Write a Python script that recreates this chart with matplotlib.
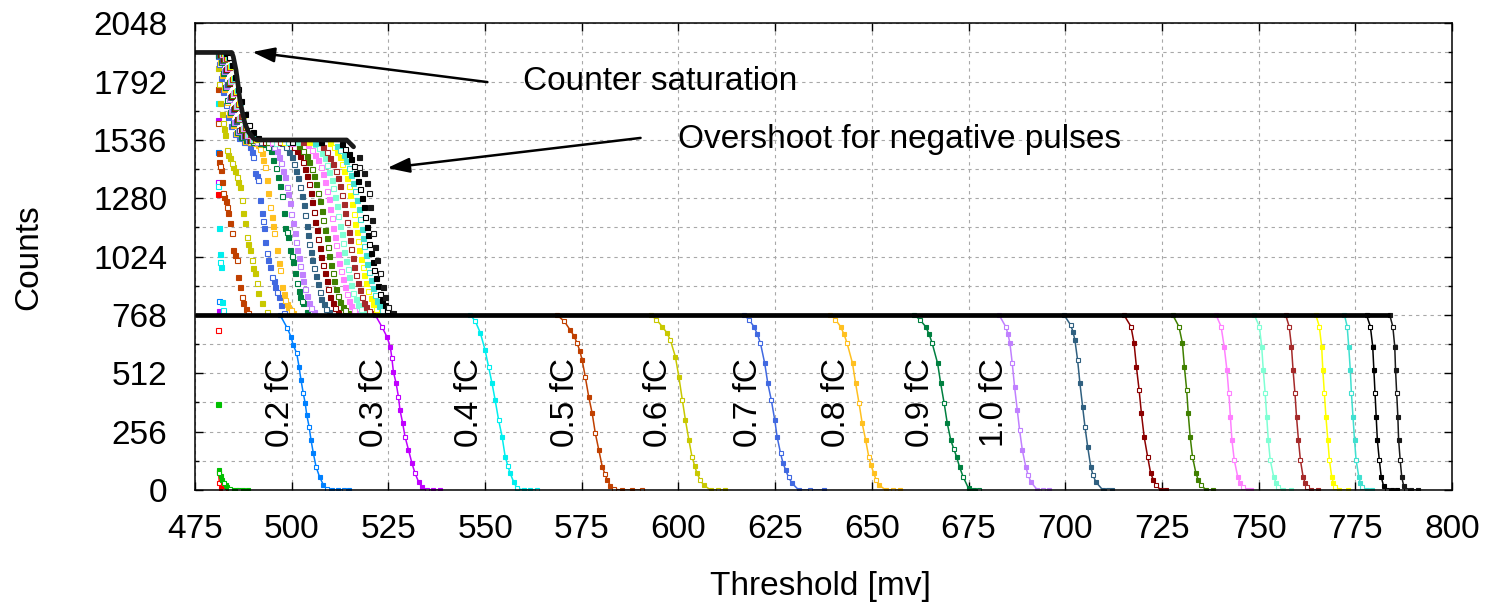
import numpy as np
import matplotlib
matplotlib.use("Agg")
import matplotlib.pyplot as plt
from matplotlib.ticker import MultipleLocator

plt.rcParams["font.family"] = ["Liberation Sans", "DejaVu Sans"]

# ---------------------------------------------------------------- data
charges = [0.0, 0.1, 0.2, 0.3, 0.4, 0.5, 0.6, 0.7, 0.8, 0.9, 1.0,
           1.1, 1.2, 1.3, 1.4, 1.5, 1.6, 1.7, 1.8, 1.9, 2.0]

colors = ["#ff0000", "#00c000", "#0080ff", "#c000ff", "#00eeee", "#c04000",
          "#c8c800", "#4169e1", "#ffc020", "#008040", "#c080ff", "#306080",
          "#8b0000", "#408000", "#ff80ff", "#7fffd4", "#a52a2a", "#ffff00",
          "#40e0d0", "#000000", "#1a1a1a"]

# counter levels
saturation_level = 1920
overshoot_level = 1536
base_level = 768

# points above the 768 level (saturation / overshoot region), one list per charge
upper_t = [
    [480.9, 481.0],
    [480.9],
    [480.9, 481.1],
    [480.9, 481.0, 481.2],
    [480.9, 481.0, 481.2, 481.4, 481.5, 481.7, 482.0, 482.3],
    [480.9, 481.0, 481.1, 481.3, 481.5, 481.7, 482.0, 482.3, 482.6, 482.9, 483.3, 483.6, 484.1, 484.5,
     484.9, 485.3, 485.8, 486.2, 486.6, 487.1, 487.5, 488.1, 488.8],
    [480.9, 481.2, 481.5, 481.9, 482.2, 482.5, 482.8, 483.2, 483.6, 484.1, 484.5, 484.9, 485.4, 485.8,
     486.2, 486.6, 487.1, 487.3, 487.9, 488.4, 488.8, 489.2, 489.7, 490.1, 490.5, 491.0, 491.4, 492.3, 493.6],
    [480.9, 481.3, 481.8, 482.3, 482.9, 483.6, 484.4, 485.4, 486.5, 487.6,
     488.6, 489.2, 489.7, 490.1, 490.5, 491.0, 491.4, 491.8, 492.2, 492.5, 492.8, 493.1, 493.5, 493.9,
     494.4, 494.8, 495.3, 495.7, 496.2, 496.6, 497.2, 497.9],
    [480.9, 481.5, 482.0, 482.6, 483.2, 483.9, 484.7, 485.7, 486.8, 488.0, 489.3,
     490.6, 491.4, 491.8, 492.2, 492.7, 493.1, 493.5, 493.9, 494.4, 494.8, 495.2, 495.5, 496.1,
     496.7, 497.0, 497.4, 497.9, 498.3, 498.7, 499.1, 499.7, 500.4],
    [481.0, 481.7, 482.2, 482.8, 483.4, 484.1, 484.9, 485.9, 487.0, 488.3, 490.0, 491.8,
     493.2, 493.9, 494.6, 495.2, 495.9, 496.5, 497.0, 497.5, 498.0, 498.3, 498.7, 499.1, 499.6,
     500.0, 500.3, 500.9, 501.3, 501.8, 502.2, 502.6, 503.0, 503.9],
    [481.1, 481.9, 482.5, 483.1, 483.7, 484.4, 485.2, 486.2, 487.3, 488.6, 491.0, 493.4,
     494.8, 495.5, 496.2, 496.8, 497.3, 497.8, 498.3, 498.7, 499.1, 499.5, 499.9, 500.4, 500.8,
     501.1, 501.5, 501.8, 502.2, 502.6, 503.0, 503.5, 504.0, 504.5, 505.1, 505.8],
    [481.3, 482.1, 482.8, 483.4, 484.0, 484.7, 485.5, 486.5, 487.6, 488.9, 492.0, 495.5,
     497.6, 498.5, 499.3, 500.0, 500.6, 501.2, 501.7, 502.2, 502.7, 503.1, 503.5, 503.9, 504.3,
     504.6, 505.0, 505.3, 505.8, 506.2, 506.7, 507.2, 507.7, 508.3, 508.9, 509.6],
    [481.5, 482.3, 483.0, 483.7, 484.3, 485.0, 485.8, 486.8, 487.9, 489.2, 493.0, 497.0,
     499.6, 500.5, 501.4, 502.2, 502.8, 503.4, 503.9, 504.4, 504.9, 505.3, 505.7, 506.1, 506.5,
     506.8, 507.2, 507.6, 508.0, 508.5, 509.0, 509.5, 510.0, 510.6, 511.3, 512.0],
    [481.7, 482.5, 483.2, 483.9, 484.6, 485.3, 486.1, 487.1, 488.2, 489.5, 494.0, 498.5,
     502.0, 503.0, 503.9, 504.6, 505.3, 505.8, 506.4, 506.9, 507.4, 507.8, 508.2, 508.6, 509.0,
     509.3, 509.7, 510.1, 510.6, 511.0, 511.5, 512.0, 512.6, 513.2, 513.9, 514.6],
    [481.9, 482.7, 483.4, 484.1, 484.8, 485.6, 486.4, 487.4, 488.5, 489.8, 495.0, 500.0,
     504.3, 505.3, 506.1, 506.8, 507.5, 508.0, 508.6, 509.1, 509.6, 510.0, 510.4, 510.8, 511.2,
     511.5, 511.9, 512.3, 512.8, 513.2, 513.7, 514.2, 514.8, 515.4, 516.1, 516.8],
    [482.1, 482.9, 483.6, 484.3, 485.0, 485.8, 486.7, 487.7, 488.8, 490.1, 496.0, 501.5,
     506.0, 507.0, 507.8, 508.5, 509.2, 509.7, 510.3, 510.8, 511.3, 511.7, 512.1, 512.5, 512.9,
     513.2, 513.6, 514.0, 514.5, 514.9, 515.4, 515.9, 516.5, 517.1, 517.8, 518.5],
    [482.3, 483.1, 483.8, 484.6, 485.3, 486.1, 487.0, 488.0, 489.1, 490.4, 497.0, 503.0,
     508.2, 509.2, 510.0, 510.7, 511.4, 511.9, 512.5, 513.0, 513.5, 513.9, 514.3, 514.7, 515.1,
     515.4, 515.8, 516.2, 516.7, 517.1, 517.6, 518.1, 518.7, 519.3, 520.0, 520.7],
    [482.5, 483.3, 484.0, 484.8, 485.6, 486.4, 487.3, 488.3, 489.4, 490.7, 498.0, 504.5,
     509.9, 510.9, 511.7, 512.4, 513.1, 513.6, 514.2, 514.7, 515.2, 515.6, 516.0, 516.4, 516.8,
     517.1, 517.5, 517.9, 518.4, 518.8, 519.3, 519.8, 520.4, 521.0, 521.7, 522.4],
    [482.7, 483.5, 484.3, 485.1, 485.9, 486.7, 487.6, 488.6, 489.7, 491.0, 499.0, 506.0,
     511.6, 512.6, 513.4, 514.1, 514.8, 515.3, 515.9, 516.4, 516.9, 517.3, 517.7, 518.1, 518.5,
     518.8, 519.2, 519.6, 520.1, 520.5, 521.0, 521.5, 522.1, 522.7, 523.4, 524.1],
    [483.0, 483.8, 484.6, 485.4, 486.2, 487.0, 487.9, 488.9, 490.0, 491.3, 500.0, 507.5,
     512.9, 513.9, 514.7, 515.4, 516.1, 516.6, 517.2, 517.7, 518.2, 518.6, 519.0, 519.4, 519.8,
     520.1, 520.5, 520.9, 521.4, 521.8, 522.3, 522.8, 523.4, 524.0, 524.7, 525.4],
    [517.3, 517.5, 518.6, 519.4, 519.9, 520.3, 520.7, 521.1, 521.6, 522.0, 522.9, 523.6, 524.2, 525.0, 526.3],
]
upper_c = [
    [1298, 703],
    [377],
    [1484, 830],
    [1624, 1353, 786],
    [1700, 1334, 1150, 1036, 1000, 980, 826, 790],
    [1760, 1610, 1477, 1441, 1420, 1404, 1350, 1302, 1285, 1270, 1240, 1214, 1170, 1126,
     1053, 1030, 1009, 936, 892, 848, 819, 795, 775],
    [1850, 1780, 1700, 1650, 1610, 1585, 1560, 1492, 1470, 1455, 1437, 1419, 1398, 1375,
     1352, 1331, 1273, 1214, 1170, 1112, 1080, 1053, 1009, 975, 951, 907, 863, 819, 782],
    [1905, 1868, 1810, 1748, 1690, 1636, 1596, 1562, 1545, 1526,
     1528, 1506, 1484, 1463, 1390, 1378, 1360, 1273, 1214, 1180, 1148, 1090, 1038, 1008,
     980, 936, 915, 892, 870, 848, 812, 778],
    [1912, 1876, 1822, 1760, 1702, 1650, 1603, 1568, 1549, 1533, 1526,
     1524, 1514, 1495, 1477, 1450, 1419, 1360, 1302, 1243, 1199, 1160, 1126, 1053,
     995, 965, 892, 862, 834, 818, 804, 790, 775],
    [1908, 1880, 1830, 1768, 1712, 1658, 1610, 1572, 1551, 1534, 1526, 1524,
     1520, 1506, 1486, 1450, 1412, 1375, 1335, 1290, 1215, 1148, 1130, 1112, 1053,
     1025, 1000, 951, 907, 872, 848, 830, 819, 782],
    [1910, 1884, 1838, 1775, 1718, 1664, 1615, 1575, 1552, 1535, 1525, 1527,
     1521, 1506, 1488, 1463, 1436, 1400, 1372, 1330, 1298, 1260, 1213, 1170, 1128,
     1090, 1052, 1020, 985, 950, 915, 880, 850, 820, 798, 780],
    [1911, 1888, 1842, 1781, 1724, 1670, 1620, 1578, 1554, 1536, 1526, 1524,
     1522, 1506, 1485, 1460, 1432, 1400, 1368, 1330, 1292, 1250, 1205, 1160, 1118,
     1080, 1045, 1010, 975, 940, 905, 870, 840, 815, 796, 780],
    [1913, 1890, 1846, 1788, 1730, 1676, 1626, 1582, 1557, 1537, 1527, 1525,
     1524, 1507, 1489, 1466, 1438, 1410, 1377, 1342, 1304, 1264, 1221, 1178, 1139,
     1101, 1062, 1022, 986, 951, 916, 880, 848, 820, 798, 781],
    [1914, 1893, 1850, 1792, 1735, 1681, 1630, 1585, 1559, 1538, 1525, 1526,
     1510, 1488, 1466, 1440, 1410, 1378, 1342, 1305, 1268, 1226, 1184, 1142, 1104,
     1066, 1026, 988, 952, 917, 884, 852, 826, 804, 788, 776],
    [1915, 1894, 1853, 1796, 1740, 1686, 1634, 1588, 1560, 1539, 1526, 1524,
     1513, 1494, 1471, 1447, 1417, 1386, 1350, 1314, 1276, 1235, 1193, 1151, 1112,
     1075, 1035, 996, 960, 926, 892, 858, 830, 808, 790, 777],
    [1916, 1896, 1856, 1800, 1745, 1691, 1638, 1591, 1562, 1540, 1524, 1526,
     1519, 1500, 1478, 1455, 1425, 1395, 1360, 1325, 1286, 1245, 1203, 1160, 1122,
     1085, 1045, 1005, 970, 935, 900, 865, 836, 812, 793, 778],
    [1916, 1897, 1858, 1803, 1748, 1695, 1642, 1594, 1564, 1541, 1526, 1525,
     1505, 1483, 1459, 1432, 1401, 1369, 1333, 1296, 1257, 1216, 1174, 1133, 1095,
     1057, 1017, 980, 944, 910, 877, 846, 822, 801, 786, 775],
    [1917, 1898, 1860, 1806, 1752, 1698, 1645, 1597, 1566, 1542, 1525, 1526,
     1521, 1503, 1482, 1460, 1431, 1402, 1368, 1333, 1295, 1255, 1212, 1169, 1131,
     1093, 1054, 1014, 978, 943, 908, 872, 842, 816, 795, 779],
    [1918, 1900, 1863, 1810, 1756, 1702, 1648, 1600, 1568, 1543, 1526, 1524,
     1511, 1491, 1468, 1443, 1413, 1382, 1346, 1310, 1272, 1231, 1189, 1146, 1108,
     1070, 1031, 992, 956, 921, 888, 855, 828, 806, 789, 776],
    [1918, 1902, 1866, 1814, 1760, 1706, 1652, 1603, 1570, 1544, 1527, 1525,
     1517, 1497, 1475, 1451, 1421, 1390, 1355, 1319, 1281, 1240, 1198, 1155, 1117,
     1080, 1040, 1000, 965, 930, 896, 861, 833, 810, 791, 777],
    [1463, 1419, 1390, 1346, 1302, 1243, 1185, 1126, 1068, 1009, 951, 892, 848, 804, 775],
]

# saturation and overshoot flats of the 2.0 fC scan
top_t = [475.0, 484.5, 484.9, 485.6, 486.2, 486.6, 487.3, 487.9, 488.8, 490.1, 491.0, 514.2, 516.0]
top_c = [1920, 1920, 1901, 1843, 1770, 1711, 1653, 1609, 1572, 1543, 1536, 1536, 1506]

# falling edge from the 768 level down to zero, one list per charge
scurve_t = [
    [481.1, 481.3, 481.6, 482.0, 482.6, 483.2, 483.8],
    [481.1, 481.3, 481.6, 482.0, 482.4, 482.9, 483.4, 484.0, 484.6, 485.5, 486.5, 487.5, 488.7],
    [497.0, 498.9, 499.8, 500.4, 501.3, 501.9, 502.4, 503.0, 503.5, 503.9, 504.5, 505.0, 505.6, 506.3, 507.2, 508.2, 509.1, 510.5, 512.0, 513.4, 514.7],
    [521.6, 523.3, 524.6, 525.5, 525.9, 526.3, 527.0, 527.6, 528.0, 528.7, 529.3, 530.2, 531.1, 531.9, 532.8, 533.7, 535.0, 536.5, 538.4],
    [546.2, 547.5, 548.8, 550.0, 550.9, 551.8, 552.6, 553.5, 554.4, 555.2, 555.9, 556.5, 557.4, 558.3, 560.0, 561.7, 563.4],
    [568.6, 570.5, 572.0, 573.0, 573.8, 574.5, 575.1, 575.9, 576.8, 577.7, 578.5, 579.4, 580.3, 581.0, 581.6, 582.4, 583.3, 585.5, 588.0, 590.6],
    [592.8, 594.3, 595.8, 597.0, 597.9, 599.2, 600.1, 601.0, 601.8, 602.7, 603.5, 604.2, 604.8, 605.6, 606.5, 608.3, 610.2, 612.1],
    [616.9, 618.2, 619.5, 620.4, 621.2, 622.3, 623.1, 624.0, 624.9, 625.5, 626.4, 627.0, 627.7, 628.5, 629.4, 631.1, 634.0, 637.6],
    [639.3, 640.6, 641.9, 642.8, 643.6, 645.0, 645.8, 646.7, 647.5, 648.4, 649.2, 649.8, 650.5, 651.1, 651.8, 653.6, 655.5, 657.4],
    [660.9, 662.4, 663.9, 664.8, 665.6, 667.0, 667.8, 668.7, 669.5, 670.4, 671.2, 671.9, 672.7, 673.6, 675.0, 676.3, 677.6],
    [682.9, 684.6, 685.2, 685.7, 686.3, 686.9, 687.6, 688.2, 688.9, 689.8, 690.4, 691.1, 692.8, 694.3, 695.8],
    [699.7, 701.4, 702.0, 702.5, 703.2, 703.8, 704.5, 705.1, 705.8, 706.6, 707.2, 707.9, 709.7, 711.0, 712.2],
    [715.2, 717.0, 717.8, 718.4, 719.1, 719.7, 720.4, 721.3, 722.1, 722.8, 723.4, 724.7, 726.0],
    [727.8, 729.4, 730.3, 730.8, 731.4, 731.8, 732.3, 732.9, 733.8, 734.4, 735.1, 736.4, 738.1],
    [739.0, 740.3, 741.1, 741.8, 742.3, 742.7, 743.1, 743.7, 744.6, 745.2, 745.9, 747.2, 748.0],
    [748.9, 750.2, 750.8, 751.2, 751.7, 752.1, 752.5, 753.0, 753.9, 754.5, 755.1, 756.2, 758.3],
    [757.0, 757.9, 758.5, 758.9, 759.4, 759.8, 760.3, 760.8, 761.5, 762.0, 762.5, 763.6, 765.3],
    [764.8, 765.7, 766.3, 766.6, 767.0, 767.4, 767.9, 768.3, 768.9, 769.3, 769.8, 770.9, 773.1],
    [772.2, 772.9, 773.3, 773.7, 774.0, 774.4, 774.8, 775.2, 775.9, 776.3, 776.7, 777.9, 779.2],
    [777.9, 778.9, 779.5, 779.8, 780.1, 780.4, 780.7, 781.2, 781.7, 782.3, 783.2, 784.5, 785.8],
    [783.9, 784.7, 785.2, 785.4, 785.7, 786.0, 786.2, 786.6, 787.0, 787.5, 788.2, 789.5, 791.2],
]
scurve_c = [
    [80, 30, 8, 0, 0, 0, 0],
    [88, 75, 62, 45, 32, 20, 12, 5, 1, 0, 0, 0, 0],
    [768, 709, 673, 636, 600, 541, 483, 424, 380, 329, 278, 219, 161, 102, 58, 22, 3, 0, 0, 0, 0],
    [768, 717, 673, 629, 578, 519, 468, 409, 351, 293, 234, 176, 117, 73, 36, 12, 0, 0, 0],
    [768, 740, 688, 614, 541, 468, 395, 307, 234, 146, 105, 73, 35, 7, 0, 0, 0],
    [768, 740, 702, 676, 644, 610, 570, 497, 409, 336, 249, 176, 102, 70, 44, 18, 3, 0, 0, 0],
    [768, 748, 717, 690, 658, 585, 497, 395, 307, 219, 146, 105, 73, 45, 22, 0, 0, 0],
    [768, 748, 717, 684, 644, 556, 468, 395, 307, 234, 161, 120, 88, 55, 29, 0, 0, 0],
    [768, 748, 717, 684, 644, 556, 468, 380, 293, 219, 146, 108, 73, 45, 22, 0, 0, 0],
    [768, 748, 717, 684, 644, 556, 468, 380, 293, 219, 180, 146, 100, 58, 7, 0, 0],
    [768, 717, 684, 644, 556, 453, 351, 263, 176, 102, 66, 36, 0, 0, 0],
    [768, 724, 695, 658, 570, 468, 365, 278, 190, 102, 64, 36, 0, 0, 0],
    [768, 717, 644, 541, 439, 336, 234, 146, 73, 44, 22, 0, 0],
    [768, 717, 644, 541, 439, 336, 234, 146, 73, 44, 22, 0, 0],
    [768, 717, 629, 527, 424, 321, 219, 132, 58, 32, 15, 0, 0],
    [768, 717, 629, 527, 424, 321, 219, 132, 58, 32, 15, 0, 0],
    [768, 717, 629, 527, 424, 321, 219, 132, 58, 32, 15, 0, 0],
    [768, 717, 629, 527, 424, 321, 219, 132, 58, 32, 15, 0, 0],
    [768, 717, 629, 527, 424, 321, 219, 132, 58, 32, 15, 0, 0],
    [768, 717, 629, 527, 424, 321, 219, 132, 58, 18, 0, 0, 0],
    [768, 717, 629, 527, 424, 321, 219, 132, 58, 18, 0, 0, 0],
]

# charge labels written along the curves
fc_labels = ["0.2 fC", "0.3 fC", "0.4 fC", "0.5 fC", "0.6 fC",
             "0.7 fC", "0.8 fC", "0.9 fC", "1.0 fC"]
fc_label_t = [497.1, 521.4, 546.1, 570.8, 594.9, 618.2, 640.8, 662.7, 681.6]
fc_label_c = 382

# ---------------------------------------------------------------- figure
W, H = 1485, 604
fig = plt.figure(figsize=(W / 100, H / 100), dpi=100)
ax = fig.add_axes([195 / W, 1 - 490 / H, 1257 / W, 466.7 / H])
ax.set_xlim(475, 800)
ax.set_ylim(0, 2048)

FS = 24


def draw_markers(t, c, color, z, ms):
    t = np.asarray(t, dtype=float)
    c = np.asarray(c, dtype=float)
    idx = np.arange(len(t))
    hollow = idx % 3 == 1
    ax.plot(t[~hollow], c[~hollow], ls="none", marker="s", ms=ms,
            mfc=color, mec=color, mew=0.8, zorder=z)
    ax.plot(t[hollow], c[hollow], ls="none", marker="s", ms=ms,
            mfc="white", mec=color, mew=0.8, zorder=z)


for i, col in enumerate(colors):
    z = 3 + i * 0.01
    draw_markers(upper_t[i], upper_c[i], col, z, 3.6)
    ax.plot(scurve_t[i], scurve_c[i], color=col, lw=1.1, zorder=z)
    draw_markers(scurve_t[i], scurve_c[i], col, z, 3.5)

# thick flats of the largest charge
ax.plot(top_t, top_c, color=colors[-1], lw=3.4, solid_capstyle="round",
        solid_joinstyle="round", zorder=4)
ax.plot([475, scurve_t[-1][0]], [base_level, base_level], color="black",
        lw=3.4, solid_capstyle="butt", zorder=4)

# charge labels
for lab, t in zip(fc_labels, fc_label_t):
    ax.text(t, fc_label_c, lab, rotation=90, ha="center", va="center",
            fontsize=FS, zorder=6)

# annotations
arrow_style = dict(arrowstyle="-|>,head_length=0.9,head_width=0.3",
                   lw=1.8, color="black", mutation_scale=15,
                   shrinkA=0, shrinkB=0)
ax.annotate("", xy=(489.8, 1922), xytext=(550.6, 1790),
            arrowprops=arrow_style, zorder=7)
ax.text(559.9, 1755, "Counter saturation", fontsize=FS, ha="left",
        va="baseline", zorder=7)
ax.annotate("", xy=(524.7, 1413), xytext=(590.2, 1545),
            arrowprops=arrow_style, zorder=7)
ax.text(600.0, 1500, "Overshoot for negative pulses", fontsize=FS,
        ha="left", va="baseline", zorder=7)

# axes styling
ax.xaxis.set_major_locator(MultipleLocator(25))
ax.yaxis.set_major_locator(MultipleLocator(256))
ax.yaxis.set_minor_locator(MultipleLocator(128))
ax.tick_params(which="both", direction="in", top=True, right=True,
               width=1.0, colors="black")
ax.tick_params(which="major", length=5.5, labelsize=FS)
ax.tick_params(which="minor", length=3)
ax.tick_params(axis="y", pad=20)
ax.tick_params(axis="x", pad=17)
grid_kw = dict(color="#a8a8a8", lw=0.8, ls=(0, (3, 3.5)))
ax.grid(which="major", axis="x", **grid_kw)
ax.grid(which="both", axis="y", **grid_kw)
ax.set_axisbelow(True)
for sp in ax.spines.values():
    sp.set_linewidth(1.1)
    sp.set_zorder(8)

fig.text(820 / W, 1 - 595 / H, "Threshold [mv]", fontsize=FS,
         ha="center", va="baseline")
fig.text(29 / W, 1 - 257 / H, "Counts", fontsize=FS, rotation=90,
         ha="center", va="center")

fig.savefig("out.png", dpi=100)
